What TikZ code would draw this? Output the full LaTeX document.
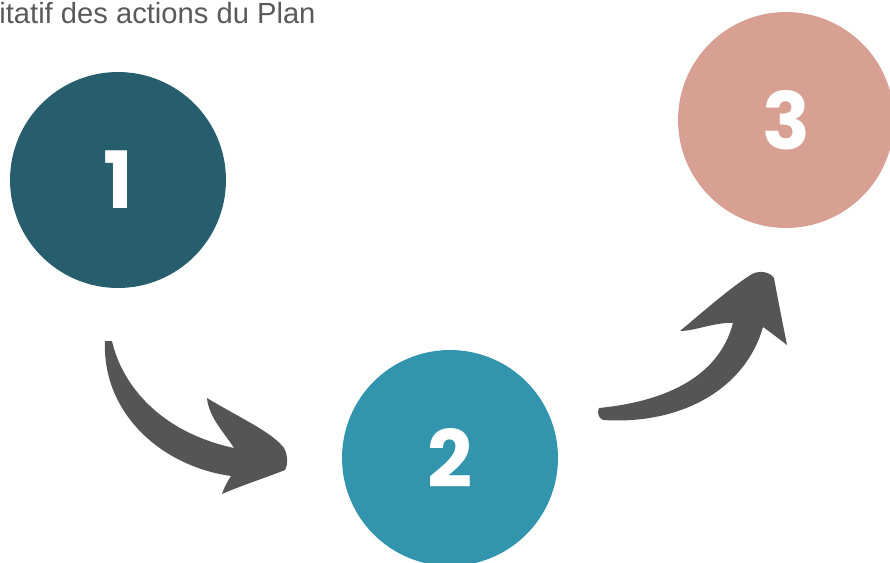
\documentclass[tikz,border=0pt]{standalone}
\usepackage{fontspec}
\setmainfont{Liberation Sans}
\newfontfamily\numfont{Poppins}
\definecolor{tealdark}{RGB}{38,94,110}
\definecolor{tealmid}{RGB}{51,148,173}
\definecolor{rosepale}{RGB}{215,160,146}
\definecolor{arrowgray}{RGB}{85,85,85}
\definecolor{titlegray}{RGB}{90,90,90}
\tikzset{
  stage/.style={circle, minimum size=4.32cm, inner sep=0pt, text=white,
    font=\numfont\bfseries\fontsize{45}{45}\selectfont},
  bigarrow/.style={fill=arrowgray, draw=none}
}
\begin{document}
\begin{tikzpicture}[x=0.02cm, y=-0.02cm]
		\useasboundingbox (0,0) rectangle (890,562);
		\begin{scope}
				
				% Titre
				\node[anchor=base west, inner sep=0pt, text=titlegray, font=\fontsize{16.6}{16.6}\selectfont] (titre) at (-1,23) {itatif des actions du Plan};
				
				% Etapes
				\node[stage, fill=tealdark] (c1) at (118,180) {1};
				\node[stage, fill=tealmid] (c2) at (450,458) {2};
				\node[stage, fill=rosepale] (c3) at (786,120) {3};
				
				% Fleche 1 vers 2
				\fill[bigarrow] (105,341) -- (112,341)
						.. controls (122,385) and (160,432) .. (234,448)
						.. controls (224,432) and (209,418) .. (207,398)
						.. controls (240,418) and (272,432) .. (284,448)
						.. controls (288,455) and (288,465) .. (285,470)
						.. controls (265,478) and (240,486) .. (222,494)
						.. controls (224,488) and (227,482) .. (231,476)
						.. controls (160,466) and (102,412) .. (105,341) -- cycle;
				
				% Fleche 2 vers 3
				\fill[bigarrow] (599,408)
						.. controls (660,402) and (718,380) .. (733,323)
						.. controls (715,322) and (695,331) .. (680,331)
						.. controls (705,310) and (730,288) .. (752,274)
						.. controls (760,270) and (770,272) .. (774,278)
						.. controls (778,300) and (783,325) .. (787,345)
						.. controls (778,338) and (770,332) .. (763,327)
						.. controls (745,390) and (680,425) .. (603,420)
						.. controls (598,418) and (597,412) .. (599,408) -- cycle;
		\end{scope}

\end{tikzpicture}
\end{document}
